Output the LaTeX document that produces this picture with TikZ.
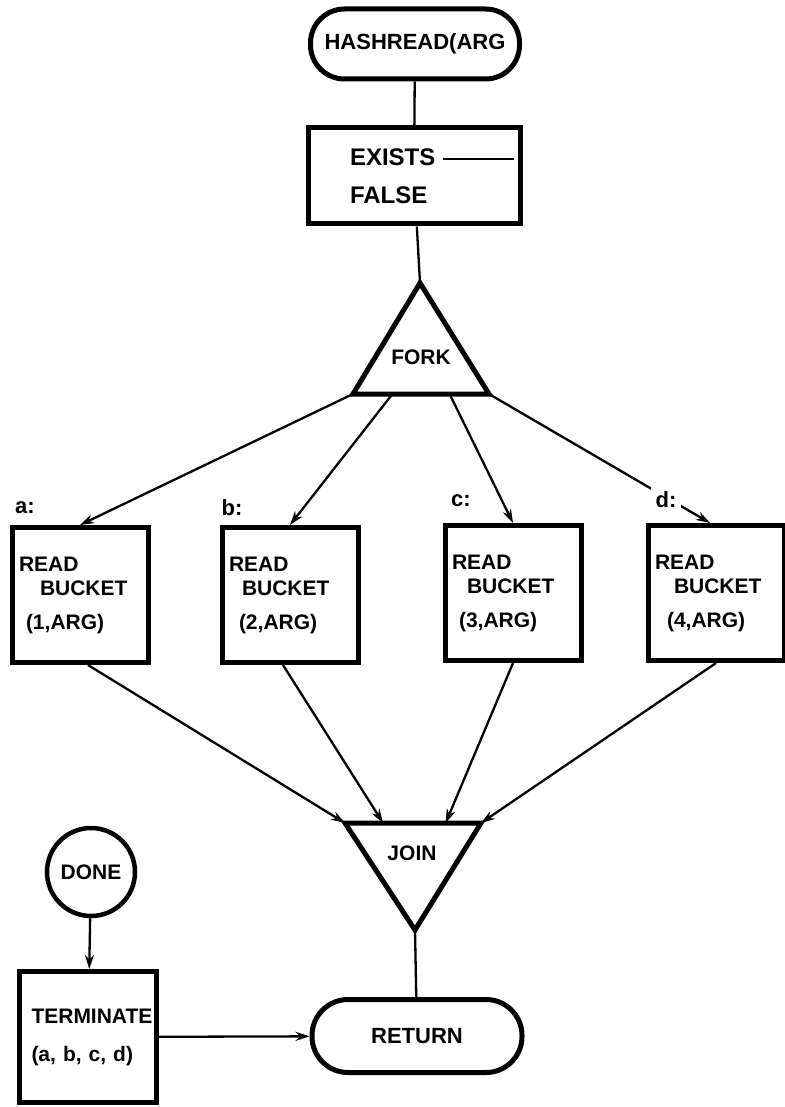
\documentclass[tikz,border=0pt]{standalone}
\usepackage{fontspec}
\setmainfont{Liberation Sans}
\usepackage{tikz}
\usetikzlibrary{arrows.meta,positioning,calc}

\begin{document}
\begin{tikzpicture}[x=1pt,y=-1pt,font=\fontsize{21}{24}\selectfont\bfseries]
\tikzset{
  termnode/.style={draw,line width=5pt,rounded corners=34pt,minimum width=209pt,minimum height=70pt,
    inner sep=0pt,font=\fontsize{22}{24}\selectfont\bfseries},
  procbox/.style={draw,line width=5pt,minimum width=136pt,minimum height=135pt,inner sep=0pt,
    text width=122pt,align=left},
  conn/.style={line width=2.3pt},
  arr/.style={conn,-{Stealth[length=14pt,width=9pt]}},
  tag/.style={font=\fontsize{22}{24}\selectfont\bfseries,inner sep=3pt}
}
\useasboundingbox[fill=white] (0,0) rectangle (784,1107);

% entry and the test box
\node[termnode] (hashread) at (415,44) {HASHREAD(ARG};
\node[draw,line width=5pt,minimum width=212pt,minimum height=96pt,inner sep=0pt,
  text width=128pt,align=left,font=\fontsize{24}{38}\selectfont\bfseries] (exists) at (414,176)
  {EXISTS\rlap{\ \rule[5pt]{71pt}{1.8pt}}\\FALSE};

% fork triangle
\coordinate (forktop) at (420,283);
\coordinate (forkL) at (353,394);
\coordinate (forkR) at (489,394);
\draw[line width=5pt,line join=miter] (forktop) -- (forkL) -- (forkR) -- cycle;
\node (fork) at (421,357) {FORK};

% the four bucket reads
\node[procbox] (bucketA) at (80,595) {READ\\\hspace*{21pt}BUCKET\\[10pt]\hspace*{7pt}(1,ARG)};
\node[procbox] (bucketB) at (290,595) {READ\\\hspace*{13pt}BUCKET\\[10pt]\hspace*{10pt}(2,ARG)};
\node[procbox] (bucketC) at (513,593) {READ\\\hspace*{15pt}BUCKET\\[10pt]\hspace*{7pt}(3,ARG)};
\node[procbox] (bucketD) at (716,593) {READ\\\hspace*{19pt}BUCKET\\[10pt]\hspace*{12pt}(4,ARG)};

\node[tag] (taga) at (25,508) {a:};
\node[tag] (tagb) at (232,508) {b:};
\node[tag] (tagc) at (461,501) {c:};

\draw[arr] (forkL) -- (bucketA.north);
\draw[arr] ($(forkL)!0.29!(forkR)$) -- (bucketB.north);
\draw[arr] ($(forkL)!0.71!(forkR)$) -- (bucketC.north);
\draw[arr] (forkR) -- ([xshift=-6pt]bucketD.north);
\node[tag,fill=white,inner sep=5pt] (tagd) at (666,500) {d:};

% join triangle
\coordinate (joinL) at (345,823);
\coordinate (joinR) at (481,823);
\coordinate (joinbot) at (415,930);
\draw[line width=5pt,line join=miter] (joinL) -- (joinR) -- (joinbot) -- cycle;
\node (join) at (412,853) {JOIN};

\draw[arr] ([xshift=8pt]bucketA.south) -- (joinL);
\draw[arr] ([xshift=-7pt]bucketB.south) -- ($(joinL)!0.28!(joinR)$);
\draw[arr] (bucketC.south) -- ($(joinL)!0.74!(joinR)$);
\draw[arr] (bucketD.south) -- (joinR);

% exit
\node[termnode,minimum width=210pt,minimum height=73pt,rounded corners=36pt] (return) at (417,1036) {RETURN};
\node[draw,circle,line width=4.5pt,minimum size=88pt,inner sep=0pt] (done) at (91,872) {DONE};
\node[procbox,minimum width=137pt,minimum height=131pt,text width=113pt] (terminate) at (88,1037)
  {TERMINATE\\[14pt](a, b, c, d)};

\draw[conn] (hashread) -- (exists);
\draw[conn] (exists) -- (forktop);
\draw[conn] (joinbot) -- (return);
\draw[arr] (done) -- (terminate);
\draw[arr] (terminate) -- (return);
\end{tikzpicture}
\end{document}
